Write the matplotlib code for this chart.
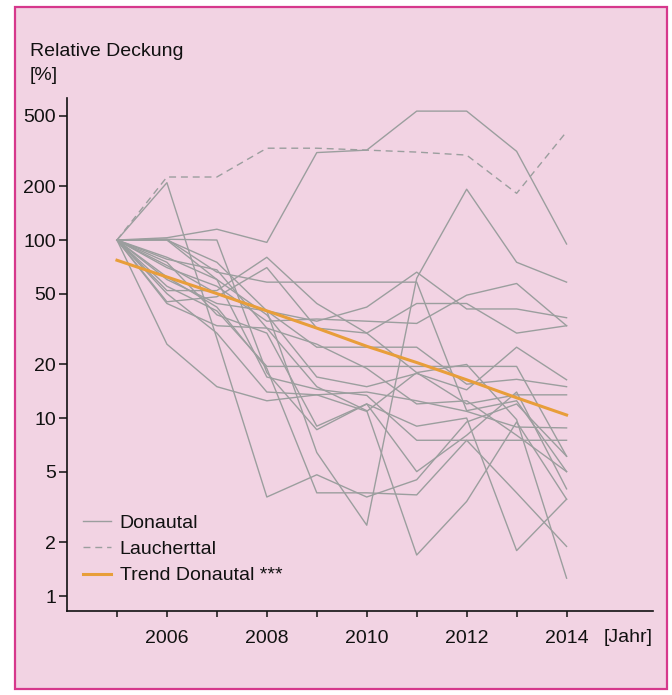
import matplotlib
matplotlib.use("Agg")
import matplotlib.pyplot as plt
from matplotlib.patches import Rectangle
from matplotlib.lines import Line2D
from matplotlib.ticker import FixedLocator, NullLocator

plt.rcParams['font.family'] = ['Liberation Sans', 'DejaVu Sans']

years = [2005, 2006, 2007, 2008, 2009, 2010, 2011, 2012, 2013, 2014]

donautal = [
    [100, 103, 115, 97, 310, 320, 530, 530, 315, 95],
    [100, 100, 75, 40, 6.4, 2.5, 61, 193, 75, 58],
    [100, 210, 28, 3.6, 4.8, 3.6, 4.5, 9.5, 12, 6.1],
    [100, 62, 42, 19, 3.8, 3.8, 3.7, 7.5, 3.8, 1.9],
    [100, 78, 68, 32, 15, 11, 1.7, 3.4, 9.5, 3.5],
    [100, 101, 100, 18, 8.6, 12, 9, 10, 1.8, 3.5],
    [100, 101, 66, 58, 58, 58, 58, 11, 12.5, 5.0],
    [100, 60, 44, 40, 35, 42, 66, 41, 41, 36.6],
    [100, 70, 55, 35, 36, 35, 34, 49, 57, 33],
    [100, 45, 48, 70, 32, 30, 44, 44, 30, 33],
    [100, 55, 40, 19.5, 19.5, 19.5, 19.5, 19.5, 19.5, 6.1],
    [100, 80, 60, 38, 17, 15, 17.8, 14.4, 25, 16.4],
    [100, 72, 50, 40, 25, 25, 25, 15.5, 16.5, 15],
    [100, 50, 30, 14, 13.5, 10.9, 18, 12, 13.5, 13.5],
    [100, 26, 15, 12.5, 13.5, 14, 12.5, 10.9, 8.9, 8.8],
    [100, 100, 60, 17, 14.5, 13.4, 7.5, 7.5, 7.5, 7.5],
    [100, 44, 33, 32, 26, 19, 12, 12.5, 8, 5.0],
    [100, 75, 38, 30, 9, 12, 5, 8, 14, 4.0],
    [100, 52, 52, 80, 44, 30, 18, 20, 9.8, 1.26],
]

laucherttal = [100, 226, 226, 328, 328, 320, 312, 300, 183, 406]

trend = [77, 62, 50, 40, 32, 25.3, 20.5, 16.4, 13, 10.4]

y_ticks = [1, 2, 5, 10, 20, 50, 100, 200, 500]
y_tick_labels = ["1", "2", "5", "10", "20", "50", "100", "200", "500"]
x_label_years = [2006, 2008, 2010, 2012, 2014]
x_minor_years = [2005, 2007, 2009, 2011, 2013]

legend_labels = ["Donautal", "Laucherttal", "Trend Donautal ***"]

PINK = "#F2D3E3"
MAGENTA = "#D6388C"
GRAY = "#9B9E9E"
ORANGE = "#E89E3A"
INK = "#111111"
FS = 14

fig = plt.figure(figsize=(6.72, 6.95), dpi=100, facecolor="white")
bg = Rectangle((15 / 672, 1 - 689 / 695), (667 - 15) / 672, (689 - 7) / 695,
               transform=fig.transFigure, facecolor=PINK, edgecolor=MAGENTA,
               linewidth=1.6, zorder=-10)
fig.add_artist(bg)

ax = fig.add_axes([67 / 672, 1 - 611 / 695, (653 - 67) / 672, (611 - 98) / 695])
ax.set_zorder(5)
ax.patch.set_visible(False)

for series in donautal:
    ax.plot(years, series, color=GRAY, lw=1.0, zorder=2)
ax.plot(years, laucherttal, color=GRAY, lw=1.0, dashes=(5, 3.5), zorder=2)
ax.plot(years, trend, color=ORANGE, lw=2.2, zorder=3)

ax.set_yscale("log")
ax.set_ylim(0.824, 628)
ax.set_xlim(2004.0, 2015.73)

ax.yaxis.set_major_locator(FixedLocator(y_ticks))
ax.yaxis.set_minor_locator(NullLocator())
ax.set_yticklabels(y_tick_labels)
ax.set_xticks(x_label_years)
ax.set_xticklabels([str(y) for y in x_label_years])
ax.set_xticks(x_minor_years, minor=True)

for s in ["top", "right"]:
    ax.spines[s].set_visible(False)
for s in ["left", "bottom"]:
    ax.spines[s].set_linewidth(1.2)
    ax.spines[s].set_color(INK)

ax.tick_params(axis="y", which="major", direction="out", length=6, width=1.1,
               labelsize=FS, pad=2, colors=INK)
ax.tick_params(axis="x", which="both", direction="out", length=4, width=1.1,
               labelsize=FS, pad=10, colors=INK)

fig.text(30 / 672, 1 - 52 / 695, "Relative Deckung", fontsize=FS, color=INK,
         ha="left", va="center")
fig.text(30 / 672, 1 - 75 / 695, "[%]", fontsize=FS, color=INK,
         ha="left", va="center")
fig.text(653 / 672, 1 - 638 / 695, "[Jahr]", fontsize=FS, color=INK,
         ha="right", va="center")

handles = [Line2D([], [], color=GRAY, lw=1.0),
           Line2D([], [], color=GRAY, lw=1.0, dashes=(5, 3.5)),
           Line2D([], [], color=ORANGE, lw=2.2)]
leg = ax.legend(handles, legend_labels, loc="lower left",
                bbox_to_anchor=(0.027, 0.052), frameon=False, fontsize=FS,
                handlelength=1.45, handletextpad=0.45, labelspacing=0.45,
                borderpad=0, borderaxespad=0)
for t in leg.get_texts():
    t.set_color(INK)

fig.savefig("out.png", dpi=100, facecolor="white")
